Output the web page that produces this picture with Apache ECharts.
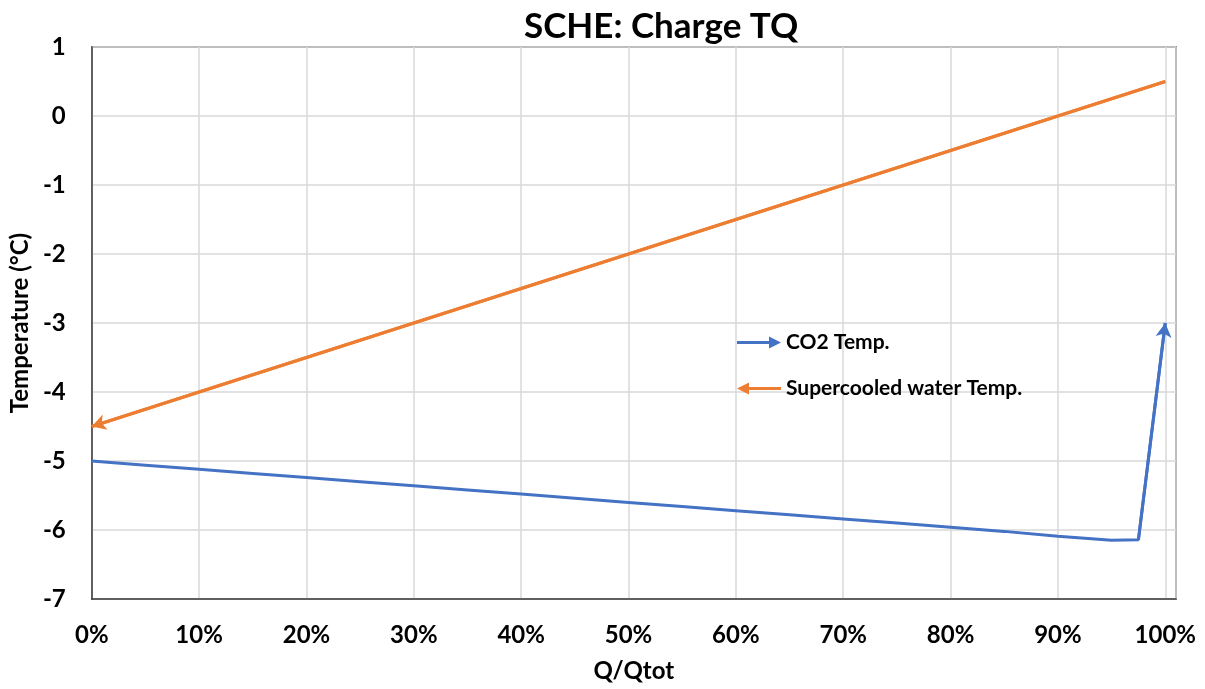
<!DOCTYPE html>
<html>
<head>
<meta charset="utf-8">
<script src="https://cdn.jsdelivr.net/npm/echarts@6/dist/echarts.min.js"></script>
<style>html,body{margin:0;padding:0;background:#fff}#c{width:1205px;height:689px}</style>
</head>
<body>
<div id="c"></div>
<script>
const titleText = 'SCHE: Charge TQ';
const xName = 'Q/Qtot';
const yName = 'Temperature (°C)';
const co2Name = 'CO2 Temp.';
const waterName = 'Supercooled water Temp.';
const co2X = [0, 0.05, 0.1, 0.15, 0.2, 0.25, 0.3, 0.35, 0.4, 0.45, 0.5, 0.55, 0.6, 0.65, 0.7, 0.75, 0.8, 0.85, 0.9, 0.95, 0.975, 1.0];
const co2Y = [-5.0, -5.06, -5.12, -5.18, -5.24, -5.3, -5.36, -5.42, -5.48, -5.54, -5.6, -5.66, -5.72, -5.78, -5.84, -5.9, -5.96, -6.02, -6.09, -6.15, -6.14, -3.0];
const waterX = [0, 1.0];
const waterY = [-4.5, 0.5];

const font = 'Lato, "Open Sans", sans-serif';
const blue = '#4472C4', orange = '#ED7D31';
const co2Data = co2X.map((x, i) => [x, co2Y[i]]);
const waterData = waterX.map((x, i) => [x, waterY[i]]);
const n = co2Data.length;
const arrowR = 'path://M0,4.5 L32,4.5 L32,0 L44,6 L32,12 L32,7.5 L0,7.5 Z';
const arrowL = 'path://M44,4.5 L12,4.5 L12,0 L0,6 L12,12 L12,7.5 L44,7.5 Z';

const chart = echarts.init(document.getElementById('c'), null, {renderer: 'canvas'});
chart.setOption({
  animation: false,
  backgroundColor: '#fff',
  title: {text: titleText, left: 519, top: 4, textStyle: {fontFamily: font, fontSize: 35, fontWeight: 'bold', color: '#000'}},
  grid: {left: 91, right: 29, top: 47, bottom: 90, show: true, borderColor: '#404040', borderWidth: 1.5},
  legend: {
    orient: 'vertical', left: 732, top: 327, itemGap: 25, itemWidth: 44, itemHeight: 12,
    textStyle: {fontFamily: font, fontSize: 21, fontWeight: 'bold', color: '#000'},
    data: [{name: co2Name, icon: arrowR}, {name: waterName, icon: arrowL}]
  },
  xAxis: {
    type: 'value', min: 0, max: 1.01, interval: 0.1,
    name: xName, nameLocation: 'middle', nameGap: 60,
    nameTextStyle: {fontFamily: font, fontSize: 24, fontWeight: 'bold', color: '#000'},
    axisLine: {show: true, onZero: false, lineStyle: {color: '#404040', width: 1.5}},
    axisTick: {show: false},
    axisLabel: {margin: 24, fontFamily: font, fontSize: 24, fontWeight: 'bold', color: '#000',
      formatter: v => v > 1.005 ? '' : Math.round(v * 100) + '%'},
    splitLine: {show: true, lineStyle: {color: '#d9d9d9', width: 1.5}}
  },
  yAxis: {
    type: 'value', min: -7, max: 1, interval: 1,
    name: yName, nameLocation: 'middle', nameGap: 56,
    nameTextStyle: {fontFamily: font, fontSize: 24, fontWeight: 'bold', color: '#000'},
    axisLine: {show: true, lineStyle: {color: '#404040', width: 1.5}},
    axisTick: {show: false},
    axisLabel: {margin: 26, fontFamily: font, fontSize: 24, fontWeight: 'bold', color: '#000'},
    splitLine: {show: true, lineStyle: {color: '#d9d9d9', width: 1.5}}
  },
  series: [
    {
      name: co2Name, type: 'line', data: co2Data, showSymbol: false, symbol: 'none',
      color: blue, lineStyle: {color: blue, width: 3},
      markLine: {
        silent: true, animation: false, symbol: ['none', 'arrow'], symbolSize: [12, 14],
        label: {show: false}, lineStyle: {color: blue, width: 3, type: 'solid'},
        data: [[{coord: co2Data[n - 2]}, {coord: co2Data[n - 1]}]]
      }
    },
    {
      name: waterName, type: 'line', data: waterData, showSymbol: false, symbol: 'none',
      color: orange, lineStyle: {color: orange, width: 3},
      markLine: {
        silent: true, animation: false, symbol: ['none', 'arrow'], symbolSize: [12, 14],
        label: {show: false}, lineStyle: {color: orange, width: 3, type: 'solid'},
        data: [[{coord: waterData[1]}, {coord: waterData[0]}]]
      }
    }
  ]
});
</script>
</body>
</html>
